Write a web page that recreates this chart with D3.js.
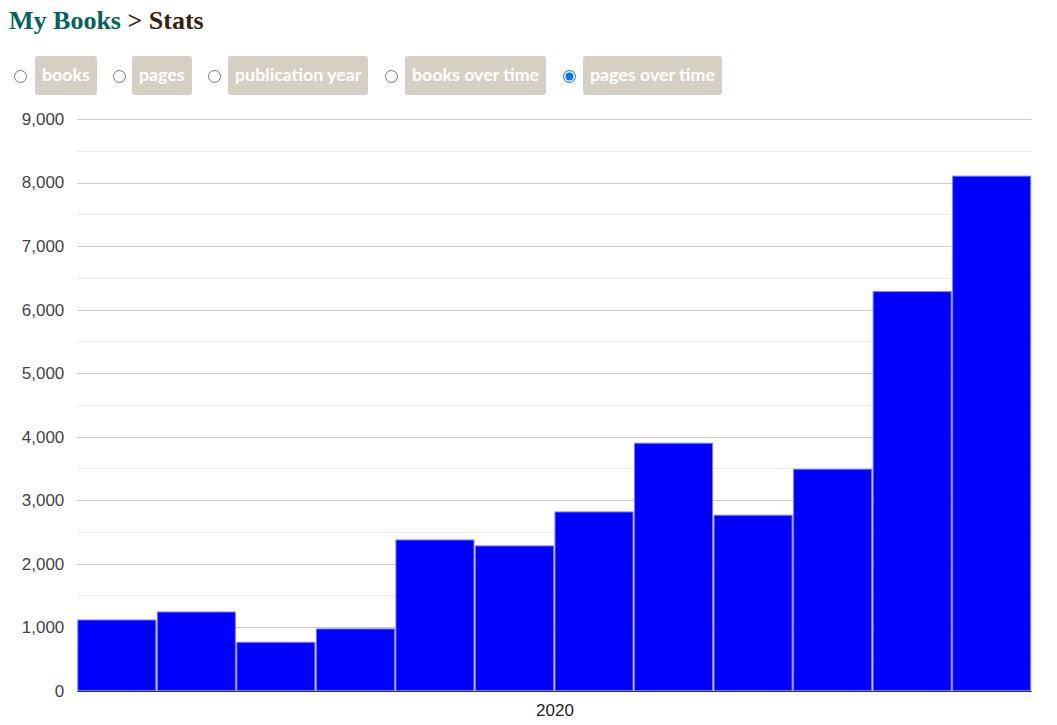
<!DOCTYPE html>
<html>
<head>
<meta charset="utf-8">
<script src="https://cdn.jsdelivr.net/npm/d3@7"></script>
<style>
  html, body { margin: 0; padding: 0; background: #fff; width: 1057px; height: 725px; overflow: hidden; }
  #title { position: absolute; left: 9px; top: 6px; font-family: "Liberation Serif", "DejaVu Serif", serif; font-weight: bold; font-size: 26px; white-space: nowrap; }
  #title .a { color: #00635d; }
  #title .b { color: #382110; }
  .opt { position: absolute; top: 56px; height: 39px; }
  .opt input { position: absolute; margin: 0; width: 13px; height: 13px; top: 14px; }
  .opt span { position: absolute; top: 0; height: 39px; line-height: 36px; padding: 0 7px; background: #d6d0c4; color: #fff; font-family: Lato, "Open Sans", sans-serif; font-weight: bold; font-size: 17.8px; border-radius: 3px; white-space: nowrap; }
  svg { position: absolute; left: 0; top: 0; }
</style>
</head>
<body>
<div id="title"><span class="a">My Books</span> <span class="b">&gt; Stats</span></div>
<div id="opts"></div>
<svg id="chart" width="1057" height="725"></svg>
<script>
// ---- data ----
const options = ["books", "pages", "publication year", "books over time", "pages over time"];
const selectedOption = "pages over time";
const months = ["Jan", "Feb", "Mar", "Apr", "May", "Jun", "Jul", "Aug", "Sep", "Oct", "Nov", "Dec"];
const pages = [1113, 1239, 762, 972, 2373, 2279, 2814, 3896, 2762, 3487, 6283, 8100];
const xTickLabels = ["2020"];
const yMajorTicks = [0, 1000, 2000, 3000, 4000, 5000, 6000, 7000, 8000, 9000];
const yMinorTicks = [500, 1500, 2500, 3500, 4500, 5500, 6500, 7500, 8500];

// ---- controls ----
const radioX = [14, 113, 208, 385, 563];
const labelX = [35, 132, 228, 405, 583];
const opts = d3.select("#opts");
options.forEach((o, i) => {
  const d = opts.append("div").attr("class", "opt").style("left", "0px");
  d.append("input").attr("type", "radio").attr("name", "opt")
    .property("checked", o === selectedOption).style("left", radioX[i] + "px");
  d.append("span").text(o).style("left", labelX[i] + "px");
});

// ---- chart ----
const svg = d3.select("#chart");
const plotLeft = 77.3, plotRight = 1031.7, plotTop = 119, plotBottom = 690.7;

const x = d3.scaleBand().domain(months).range([plotLeft, plotRight]).padding(0);
const xLabel = d3.scalePoint().domain(xTickLabels).range([plotLeft, plotRight]).padding(0.5);
const y = d3.scaleLinear().domain([0, 9000]).range([plotBottom, plotTop]);

// minor gridlines
svg.append("g").selectAll("line").data(yMinorTicks).join("line")
  .attr("x1", plotLeft).attr("x2", plotRight)
  .attr("y1", d => Math.round(y(d)) + 0.5).attr("y2", d => Math.round(y(d)) + 0.5)
  .attr("stroke", "#ebebeb").attr("stroke-width", 1);

// major gridlines
svg.append("g").selectAll("line").data(yMajorTicks.filter(d => d > 0)).join("line")
  .attr("x1", plotLeft).attr("x2", plotRight)
  .attr("y1", d => Math.round(y(d)) + 0.5).attr("y2", d => Math.round(y(d)) + 0.5)
  .attr("stroke", "#cccccc").attr("stroke-width", 1);

// y axis labels
const yAxis = d3.axisLeft(y).tickValues(yMajorTicks).tickFormat(d3.format(",")).tickSize(0).tickPadding(13);
const yg = svg.append("g").attr("transform", `translate(${plotLeft},0)`).call(yAxis);
yg.select(".domain").remove();
yg.selectAll("text").attr("font-family", "Arial, 'Liberation Sans', sans-serif")
  .attr("font-size", 17).attr("fill", "#444");

// bars
svg.append("g").selectAll("rect").data(months).join("rect")
  .attr("x", d => x(d) + 0.5)
  .attr("width", x.bandwidth() - 1.5)
  .attr("y", (d, i) => y(pages[i]))
  .attr("height", (d, i) => plotBottom - y(pages[i]))
  .attr("fill", "#0000ff")
  .attr("stroke", "#7a7aff")
  .attr("stroke-width", 1);

// baseline
svg.append("line").attr("x1", plotLeft).attr("x2", plotRight)
  .attr("y1", Math.round(plotBottom) + 0.5).attr("y2", Math.round(plotBottom) + 0.5)
  .attr("stroke", "#333").attr("stroke-width", 1);

// x axis label
const xAxis = d3.axisBottom(xLabel).tickSize(0).tickPadding(13);
const xg = svg.append("g").attr("transform", `translate(0,${plotBottom})`).call(xAxis);
xg.select(".domain").remove();
xg.selectAll("text").attr("font-family", "Arial, 'Liberation Sans', sans-serif")
  .attr("font-size", 17).attr("fill", "#222");
</script>
</body>
</html>
